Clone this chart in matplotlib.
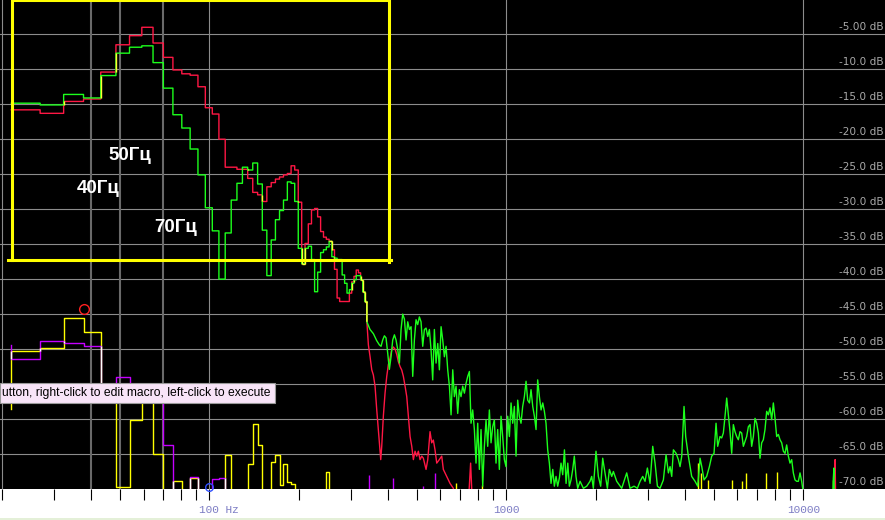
import numpy as np
import matplotlib
matplotlib.use("Agg")
import matplotlib.pyplot as plt
from matplotlib.collections import LineCollection
from matplotlib.patches import Rectangle
from matplotlib.transforms import offset_copy, blended_transform_factory

# ---------------- data ----------------
BIN_HZ = 44100 / 8192          # FFT bin spacing
F = -72.0                      # below floor (hidden)

bins = np.arange(4, 63)        # FFT bins shown as steps
red_bins = [-15.8, -16.3, -14.6, -14.25, -10.4, -6.5, -5.2, -4.0, -6.25, -8.3,
            -10.1, -10.65, -10.85, -12.5, -15.5, -16.4, -20.0, -24.0, -24.0, -24.3,
            -24.3, -25.6, -27.6, -27.95, -28.9, -26.8, -26.2, -25.7, -25.4, -25.1,
            -24.9, -23.8, -24.4, -29.0, -37.8, -34.9, -32.1, -30.1, -29.9, -31.1,
            -33.2, -34.0, -34.3, -34.6, -35.8, -38.6, -42.7, -43.2, -43.2, -43.2,
            -43.2, -42.0, -40.4, -39.6, -38.7, -39.1, -40.1, -41.8, -43.2]
green_bins = [-14.85, -15.1, -13.6, -14.1, -10.9, -7.7, -6.85, -6.65, -9.05, -12.7,
              -16.5, -18.4, -21.4, -25.1, -29.8, -33.1, -40.0, -33.4, -28.7, -26.3,
              -24.0, -24.4, -23.4, -26.4, -33.0, -39.5, -34.4, -31.5, -30.2, -28.7,
              -26.1, -26.3, -28.9, -35.6, -37.8, -35.6, -35.3, -37.2, -41.8, -39.0,
              -36.2, -35.8, -35.4, -34.6, -36.8, -37.0, -37.2, -37.2, -39.4, -40.6,
              -42.0, -41.5, -40.6, -40.1, -39.5, -39.5, -40.1, -41.8, -43.2]

red_fine_hz = [339.1, 341.5, 343.1, 347.6, 352.2, 356.6, 361.3, 366.1, 370.7, 375.5,
               377.6, 380.5, 385.3, 390.4, 395.6, 400.6, 405.9, 411.3, 416.4, 422,
               427.6, 432.9, 438.6, 444.4, 450, 456, 462, 467.8, 474, 480.3,
               486.3, 492.7, 499.2, 505.4, 512.1, 519, 525.4, 536.5, 543.7, 553.4,
               560.7, 567.7, 575.2, 582.9, 594.7, 605.9, 613.5, 629.9, 646.2, 663,
               680, 745, 758, 768, 12680, 12760, 12800, 12850, 18840]
red_fine_db = [-46.1, -48.2, -49.4, -51.1, -52.96, -53.7, -55.3, -58.7, -61.5, -64.4,
               -65.8, -63.9, -59.6, -56.3, -53.9, -52.2, -51.3, -50.1, -49.7, -50.0,
               -50.8, -51.8, -52.5, -53.0, -53.9, -55.3, -56.8, -59.6, -62.5, -63.9,
               -65.8, -64.6, -65.3, -64.6, -65.8, -65.3, -65.6, -67.2, -65.8, -61.8,
               -63.4, -63.0, -64.4, -66.3, -65.8, -65.3, -67.2, -68.2, -69.2, -69.9,
               F, F, -66.3, F, F, -66.5, -65.8, F, F]

green_fine_hz = [339.1, 347.5, 356.7, 366, 373.6, 378.5, 383.4, 388.4, 393.4, 398.6,
                 403.7, 409, 414.3, 419.8, 425.2, 430.8, 436.4, 442, 447.7, 453.6,
                 459.5, 465.5, 471.5, 477.7, 483.9, 490.1, 496.5, 502.9, 509.4, 516.1,
                 522.9, 529.7, 536.6, 543.6, 550.6, 557.8, 564.9, 572.3, 579.8, 587.4,
                 595, 602.8, 610.6, 618.5, 626.6, 634.7, 643, 651.4, 659.9, 668.3,
                 677, 685.8, 694.7, 703.7, 712.9, 722.3, 731.7, 741.2, 750.8, 760.5,
                 770.3, 780.4, 790.5, 800.8, 811.3, 821.8, 832.5, 843.3, 854.3, 865.4,
                 876.6, 888, 899.5, 911.3, 923.1, 935.1, 947.3, 959.6, 972, 984.7,
                 997.5, 1010.6, 1023.8, 1037.1, 1050.5, 1064.1, 1078, 1092, 1106, 1120.4,
                 1135, 1150, 1165, 1180, 1196, 1211, 1227, 1243, 1259, 1275,
                 1292, 1309, 1326, 1343, 1360, 1378, 1396, 1414, 1433, 1451,
                 1470, 1489, 1509, 1528, 1548, 1569, 1589, 1610, 1630, 1651,
                 1673, 1694, 1716, 1739, 1771, 1817, 1865, 1913, 1938, 1963,
                 2004, 2041, 2078, 2111, 2149, 2189, 2223, 2264, 2293, 2353,
                 2446, 2543, 2609, 2692, 2762, 2820, 2879, 2931, 2985, 3047,
                 3111, 3168, 3226, 3292, 3379, 3450, 3513, 3559, 3605, 3652,
                 3729, 3796, 3845, 3896, 3966, 4017, 4101, 4208, 4320, 4410,
                 4491, 4550, 4632, 4727, 4827, 4915, 5004, 5083, 5148, 5242,
                 5310, 5379, 5450, 5521, 5593, 5665, 5739, 5813, 5888, 5965,
                 6042, 6122, 6201, 6282, 6363, 6446, 6530, 6615, 6700, 6789,
                 6877, 6966, 7057, 7148, 7241, 7335, 7430, 7527, 7626, 7725,
                 7826, 7927, 8030, 8134, 8240, 8347, 8457, 8567, 8679, 8790,
                 8904, 9020, 9138, 9256, 9376, 9500, 9623, 9748, 9874, 9952,
                 10050, 12550, 12620, 12680, 12720, 18840]
green_fine_db = [-46.1, -47.2, -47.8, -48.8, -49.4, -49.6, -48.7, -48.1, -48.4, -50.6,
                 -52.9, -51.1, -48.7, -47.96, -48.7, -50.1, -52.0, -47.2, -45.0, -45.7,
                 -48.7, -46.1, -47.2, -46.8, -53.9, -48.7, -45.8, -46.5, -45.4, -46.1,
                 -49.6, -47.2, -47.0, -48.2, -47.2, -50.1, -54.4, -47.2, -52.0, -49.2,
                 -52.96, -46.8, -48.7, -51.1, -49.6, -52.96, -55.3, -59.4, -52.96, -56.8,
                 -55.3, -59.2, -55.8, -56.8, -55.3, -56.3, -54.9, -53.9, -53.2, -60.6,
                 -58.7, -61.5, -66.3, -60.6, -67.2, -61.5, -69.6, -63.9, -60.1, -63.9,
                 -58.7, -63.4, -61.1, -60.1, -66.3, -61.5, -67.2, -59.6, -62.5, -65.8,
                 -66.8, -59.6, -62.5, -57.7, -60.6, -58.2, -65.3, -57.3, -59.6, -60.6,
                 -58.2, -56.8, -54.6, -57.3, -57.7, -55.8, -58.2, -59.6, -61.5, -54.4,
                 -56.8, -58.7, -57.7, -58.9, -60.6, -64.4, -66.3, -69.2, -67.2, -69.6,
                 -68.2, -69.6, -68.4, -66.3, -67.96, -64.4, -69.2, -66.3, -69.6, -68.7,
                 -67.2, -65.3, -68.2, -69.9, -68.9, -69.9, -69.6, -68.9, -68.2, -69.9,
                 -64.6, -68.2, -69.6, -65.6, -67.7, -69.9, -67.2, -68.2, -67.5, -68.9,
                 -69.9, -67.7, -69.9, -69.6, -69.9, -68.9, -68.2, -68.9, -67.0, -69.2,
                 -63.9, -66.3, -69.6, -69.9, -68.7, -65.1, -67.7, -66.8, -68.2, -64.4,
                 -64.9, -65.8, -66.8, -65.3, -58.2, -62.5, -65.3, -68.2, -68.9, -69.6,
                 -65.6, -66.8, -68.7, -68.2, -66.8, -65.3, -64.9, -60.6, -63.9, -62.5,
                 -62.7, -62.0, -59.6, -57.0, -59.4, -61.8, -64.9, -60.8, -61.8, -62.5,
                 -62.96, -61.8, -62.0, -63.9, -63.2, -62.5, -61.1, -60.8, -63.9, -62.5,
                 -59.9, -60.6, -62.0, -65.6, -63.4, -62.96, -61.5, -58.9, -59.4, -58.4,
                 -60.1, -57.7, -59.9, -62.5, -62.2, -62.96, -63.4, -64.6, -64.9, -63.7,
                 -65.3, -66.3, -65.8, -67.7, -68.7, -68.9, -68.9, -67.7, -68.9, -69.9,
                 F, F, -68.5, -67.0, F, F]

# second measurement (lower traces), FFT bins 4..47
low_bins = np.arange(4, 48)
ylw_start = -58.5
ylw_bins = [-50.3, -49.9, -45.6, -47.5, -56.1, -69.7, -60.1, -57.6, -65.0, F,
            -68.9, F, -68.4, F, F, F, F, -65.1, F, F,
            F, -66.4, -60.7, -63.7, F, F, -66.1, -65.2, -69.4, -66.4,
            -69.0, -69.3, F, F, F, F, F, F, F, F,
            F, F, -67.5, F]
mag_start = -49.4
mag_bins = [-51.4, -48.9, -49.2, -49.6, -56.1, -54.0, -55.5, -57.6, -56.5, -63.7,
            F, F, -68.3, F, F, -68.6, -68.4, F, F, F,
            F, F, F, F, F, F, F, F, F, F,
            F, F, F, F, F, F, F, F, F, F,
            F, F, F, F]
ylw_spike_hz = [677, 826, 4430, 4530, 4790, 5739, 6201, 6400, 7488, 8176, 12600]
ylw_spike_db = [-69.2, -69.4, -66.3, -67.7, -68.7, -68.7, -68.9, -67.7, -67.7, -67.5, -68.7]
mag_spike_hz = [345, 416, 525, 575]
mag_spike_db = [-67.96, -68.4, -69.6, -67.7]

marker_red = (37.7, -44.2)
marker_blue = (100, -69.7)
box_hz = (21.6, 402.7)
box_db = (-37.3, -0.17)
grid_db = list(range(-5, -70, -5))
grid_hz = [20, 100, 1000, 10000]
mark_hz = [40, 50, 70]
tick_labels = {100: "100 Hz", 1000: "1000", 10000: "10000"}
notes = [("50\u0413\u0446", 108, 159.5), ("40\u0413\u0446", 77, 193), ("70\u0413\u0446", 154.5, 232.5)]

# ---------------- helpers ----------------
def step_path(k, v, start=None):
    k = np.asarray(k, float)
    v = np.asarray(v, float)
    f = np.append(k, k[-1] + 1) * BIN_HZ
    xs = np.repeat(f, 2)[1:-1]
    ys = np.repeat(v, 2)
    if start is not None:
        xs = np.insert(xs, 0, f[0])
        ys = np.insert(ys, 0, start)
    return xs, ys


def shared_segments(k, va, vb, sa=None, sb=None, tol=0.05):
    k = np.asarray(k, float)
    f = np.append(k, k[-1] + 1) * BIN_HZ
    segs = []
    for i in range(len(k)):
        if abs(va[i] - vb[i]) < tol:
            segs.append([(f[i], va[i]), (f[i + 1], va[i])])
        if i > 0 or (sa is not None and sb is not None):
            pa = va[i - 1] if i > 0 else sa
            pb = vb[i - 1] if i > 0 else sb
            a0, a1 = sorted((pa, va[i]))
            b0, b1 = sorted((pb, vb[i]))
            lo, hi = max(a0, b0), min(a1, b1)
            if hi - lo > tol:
                segs.append([(f[i], lo), (f[i], hi)])
    return segs

# ---------------- figure ----------------
W, H = 885, 520
PLOT_H = 489
fig = plt.figure(figsize=(W / 100, H / 100), dpi=100)
fig.patch.set_facecolor("white")
ax = fig.add_axes([0, (H - PLOT_H) / H, 1, PLOT_H / H])
ax.set_facecolor("black")
ax.set_xscale("log")
ax.set_xlim(19.72, 18840)
ax.set_ylim(-70, -0.1)
for s in ax.spines.values():
    s.set_visible(False)

# grid
for d in grid_db:
    ax.axhline(d, color="#8c8c8c", lw=0.8, zorder=1)
for h in grid_hz:
    ax.axvline(h, color="#8c8c8c", lw=0.8, zorder=1)
for h in mark_hz:
    ax.axvline(h, color="#6a6a6a", lw=1.5, zorder=1)

# ticks
ax.set_xticks([100, 1000, 10000])
minor = [m * d for d in (10, 100, 1000) for m in range(2, 10)]
ax.set_xticks(minor, minor=True)
ax.tick_params(axis="x", which="both", direction="out", length=8, width=0.8,
               color="black", labelbottom=False)
ax.tick_params(axis="y", which="both", left=False, labelleft=False)

trans_x = blended_transform_factory(ax.transData, ax.transAxes)
for hz, lab in tick_labels.items():
    if lab.endswith("Hz"):
        tr = offset_copy(trans_x, fig=fig, x=-10, y=0, units="dots")
        ax.text(hz, -21 / PLOT_H, lab, transform=tr, ha="left", va="center",
                family="Liberation Mono", fontsize=8, color="#7c7cc4", clip_on=False)
    else:
        ax.text(hz, -21 / PLOT_H, lab, transform=trans_x, ha="center", va="center",
                family="Liberation Mono", fontsize=8, color="#7c7cc4", clip_on=False)

trans_y = offset_copy(blended_transform_factory(ax.transAxes, ax.transData),
                      fig=fig, x=0, y=2, units="dots")
for d in grid_db + [-70]:
    lab = "%.2f dB" % d if d == -5 else "%.1f dB" % d
    ax.text(883.5 / W, d, lab, transform=trans_y, ha="right", va="bottom",
            family="DejaVu Sans", fontsize=7.6, color="#a8a8a8", zorder=5)

# lower traces (yellow & magenta)
xs, ys = step_path(low_bins, ylw_bins, ylw_start)
ax.plot(xs, ys, color="#ffff00", lw=1.0, zorder=3)
xs, ys = step_path(low_bins, mag_bins, mag_start)
ax.plot(xs, ys, color="#c400ff", lw=1.0, zorder=3)
ax.add_collection(LineCollection(shared_segments(low_bins, ylw_bins, mag_bins, ylw_start, mag_start),
                                 colors="white", lw=1.0, zorder=3.5))
ax.vlines(ylw_spike_hz, -71, ylw_spike_db, color="#ffff00", lw=1.0, zorder=3)
ax.vlines(mag_spike_hz, -71, mag_spike_db, color="#c400ff", lw=1.0, zorder=3)

# main traces (red & green)
xs, ys = step_path(bins, red_bins)
ax.plot(np.r_[xs, red_fine_hz], np.r_[ys, red_fine_db], color="#ff1744", lw=1.0, zorder=4)
xs, ys = step_path(bins, green_bins)
ax.plot(np.r_[xs, green_fine_hz], np.r_[ys, green_fine_db], color="#1cff1c", lw=1.0, zorder=4.2)
shared = shared_segments(bins, red_bins, green_bins)
if red_fine_db[0] == green_fine_db[0]:
    f_end = (bins[-1] + 1) * BIN_HZ
    shared.append([(f_end, red_bins[-1]), (red_fine_hz[0], red_fine_db[0])])
ax.add_collection(LineCollection(shared, colors="#ffff30", lw=1.0, zorder=4.5))

# markers
ax.plot(*marker_red, marker="o", ms=7, mfc="none", mec="#ff2020", mew=1.0, zorder=6)
ax.plot(*marker_blue, marker="o", ms=5.5, mfc="none", mec="#3050ff", mew=1.0, zorder=6,
        clip_on=False)

# yellow selection box
(b0, b1), (d0, d1) = box_hz, box_db
ax.plot([b0, b0, b1, b1], [d0, d1, d1, d0 - 0.3], color="#ffff00", lw=2.2, zorder=7,
        solid_joinstyle="miter")
ax.plot([b0 * 0.975, b1 * 1.015], [d0, d0], color="#ffff00", lw=2.2, zorder=7)

# annotations
for txt, px, py in notes:
    ax.text(px / W, 1 - py / PLOT_H, txt, transform=ax.transAxes, ha="left",
            va="baseline", family="Liberation Sans", fontweight="bold",
            fontsize=13.5, color="white", zorder=8)

# tooltip
fig.add_artist(Rectangle((0, (H - 403) / H), 275 / W, 20 / H, transform=fig.transFigure,
                         facecolor="#f8e4f8", edgecolor="#9a9a9a", lw=0.8, zorder=10))
fig.text(1.5 / W, (H - 393) / H, "utton, right-click to edit macro, left-click to execute",
         ha="left", va="center", family="Liberation Sans", fontsize=8.7,
         color="black", zorder=11)

# bottom strip
fig.add_artist(Rectangle((0, 0), 1, 2.5 / H, transform=fig.transFigure,
                         facecolor="#e4f0d8", edgecolor="none", zorder=9))

fig.savefig("out.png", dpi=100, facecolor=fig.get_facecolor())
